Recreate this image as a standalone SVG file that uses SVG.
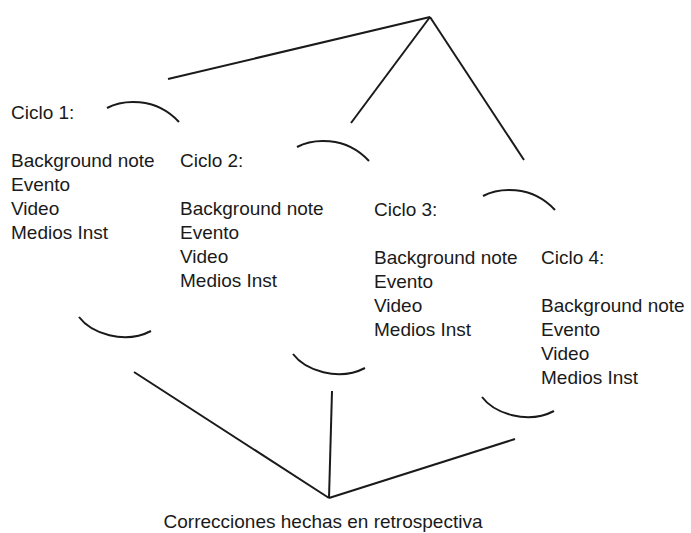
<svg xmlns="http://www.w3.org/2000/svg" xmlns:xlink="http://www.w3.org/1999/xlink" width="691" height="533" viewBox="0 0 691 533">
<style>
.t{font-family:"Liberation Sans",Arial,sans-serif;font-size:19px;fill:#1a1a1a}
.ln{stroke:#1a1a1a;stroke-width:2;fill:none;stroke-linecap:butt}
</style>
<defs>
<path id="arcTop" d="M0,0 C15,-8 48,-12 72,14" class="ln"/>
<path id="arcBot" d="M0,0 C12,16 45,28 72,14" class="ln"/>
</defs>
<rect width="691" height="533" fill="#ffffff"/>
<g id="connectors">
<line class="ln" x1="430" y1="17" x2="168" y2="79"/>
<line class="ln" x1="430" y1="17" x2="351" y2="123"/>
<line class="ln" x1="430" y1="17" x2="524" y2="160"/>
<line class="ln" x1="329" y1="498" x2="134" y2="372"/>
<line class="ln" x1="329" y1="498" x2="332" y2="391"/>
<line class="ln" x1="329" y1="498" x2="515" y2="439"/>
</g>
<g id="ciclo1">
<use xlink:href="#arcTop" transform="translate(107,108)"/>
<use xlink:href="#arcBot" transform="translate(79,317)"/>
<text class="t" x="11" y="119">Ciclo 1:</text>
<text class="t" x="11" y="167">Background note</text>
<text class="t" x="11" y="191">Evento</text>
<text class="t" x="11" y="215">Video</text>
<text class="t" x="11" y="239">Medios Inst</text>
</g>
<g id="ciclo2">
<use xlink:href="#arcTop" transform="translate(297,147)"/>
<use xlink:href="#arcBot" transform="translate(293,354)"/>
<text class="t" x="180" y="167">Ciclo 2:</text>
<text class="t" x="180" y="215">Background note</text>
<text class="t" x="180" y="239">Evento</text>
<text class="t" x="180" y="263">Video</text>
<text class="t" x="180" y="287">Medios Inst</text>
</g>
<g id="ciclo3">
<use xlink:href="#arcTop" transform="translate(483,196)"/>
<use xlink:href="#arcBot" transform="translate(482,397)"/>
<text class="t" x="374" y="216">Ciclo 3:</text>
<text class="t" x="374" y="264">Background note</text>
<text class="t" x="374" y="288">Evento</text>
<text class="t" x="374" y="312">Video</text>
<text class="t" x="374" y="336">Medios Inst</text>
</g>
<g id="ciclo4">
<text class="t" x="541" y="264">Ciclo 4:</text>
<text class="t" x="541" y="312">Background note</text>
<text class="t" x="541" y="336">Evento</text>
<text class="t" x="541" y="360">Video</text>
<text class="t" x="541" y="384">Medios Inst</text>
</g>
<g id="correcciones">
<text class="t" x="323" y="528" text-anchor="middle">Correcciones hechas en retrospectiva</text>
</g>
</svg>
